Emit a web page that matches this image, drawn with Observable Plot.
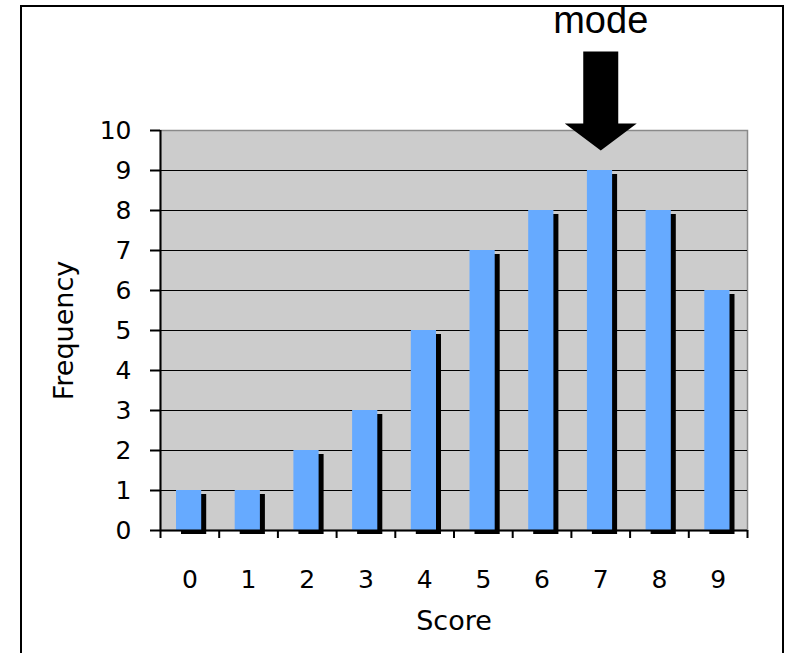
<!DOCTYPE html>
<html>
<head>
<meta charset="utf-8">
<script src="https://cdn.jsdelivr.net/npm/d3@7"></script>
<script src="https://cdn.jsdelivr.net/npm/@observablehq/plot@0.6"></script>
<style>
  html, body { margin: 0; padding: 0; background: #fff; }
  #page { position: relative; width: 785px; height: 653px; overflow: hidden; }
  #box { position: absolute; left: 20px; top: 5px; width: 760px; height: 700px; border: 2px solid #000; }
  #chart { position: absolute; left: 0; top: 0; }
</style>
</head>
<body>
<div id="page">
  <div id="box"></div>
  <div id="chart"></div>
</div>
<script>
// Frequency of each score
const scores = [0, 1, 2, 3, 4, 5, 6, 7, 8, 9];
const frequencies = [1, 1, 2, 3, 5, 7, 8, 9, 8, 6];
const yTicks = [0, 1, 2, 3, 4, 5, 6, 7, 8, 9, 10];
const xTitle = "Score";
const yTitle = "Frequency";
const modeLabel = "mode";

const rows = scores.map((s, i) => ({score: s, freq: frequencies[i]}));
const modeRow = rows.reduce((a, b) => (b.freq > a.freq ? b : a));

// tick marks sit on the boundaries between score categories
const boundaries = scores.map(s => s - 0.5).concat([scores[scores.length - 1] + 0.5]);

// block arrow pointing down, tip at the anchor point
const arrowSymbol = {
  draw(ctx) {
    ctx.moveTo(0, 0);
    ctx.lineTo(36, -27);
    ctx.lineTo(17.5, -27);
    ctx.lineTo(17.5, -99);
    ctx.lineTo(-17.5, -99);
    ctx.lineTo(-17.5, -27);
    ctx.lineTo(-36, -27);
    ctx.closePath();
  }
};

const barOpts = {
  x1: d => d.score - 0.5,
  x2: d => d.score + 0.5,
  y: "freq",
  insetLeft: 16,
  insetRight: 17.5
};

const sansFont = "'DejaVu Sans', Verdana, sans-serif";

const chart = Plot.plot({
  width: 785,
  height: 653,
  marginLeft: 160,
  marginRight: 38,
  marginTop: 130,
  marginBottom: 123,
  style: {fontFamily: sansFont, color: "#000", background: "transparent", overflow: "visible"},
  x: {type: "linear", domain: [-0.5, 9.5]},
  y: {domain: [0, 10]},
  marks: [
    Plot.frame({fill: "#cccccc", stroke: "#8a8a8a", strokeWidth: 1.5}),
    Plot.gridY({ticks: yTicks.slice(1, -1), stroke: "#000", strokeOpacity: 1, strokeWidth: 1.2}),
    // drop shadow behind each bar
    Plot.rectY(rows, {...barOpts, fill: "#000", dx: 5, dy: 4}),
    Plot.rectY(rows, {...barOpts, fill: "#66aaff"}),
    Plot.ruleY([0], {stroke: "#000", strokeWidth: 2}),
    Plot.ruleX([-0.5], {stroke: "#000", strokeWidth: 2}),
    Plot.axisY({ticks: yTicks, tickSize: 10, tickPadding: 19, fontSize: 25, label: null, strokeWidth: 2}),
    Plot.axisX({ticks: boundaries, tickSize: 8, tickFormat: () => "", label: null, strokeWidth: 2}),
    Plot.axisX({ticks: scores, tickSize: 0, tickPadding: 40, fontSize: 25, label: null, tickFormat: d => String(d)}),
    Plot.text([xTitle], {frameAnchor: "bottom", dy: 99, fontSize: 27}),
    Plot.text([yTitle], {frameAnchor: "left", textAnchor: "middle", rotate: -90, dx: -96, fontSize: 27}),
    // arrow and label marking the mode
    Plot.dot([modeRow], {x: "score", y: d => d.freq + 0.5, symbol: arrowSymbol, fill: "#000", stroke: "none"}),
    Plot.text([modeRow], {
      x: "score", y: d => d.freq + 0.5, text: () => modeLabel,
      lineAnchor: "bottom", dy: -118, fontSize: 38,
      fontFamily: "'Liberation Sans', Arial, sans-serif"
    })
  ]
});

document.getElementById("chart").appendChild(chart);
</script>
</body>
</html>
